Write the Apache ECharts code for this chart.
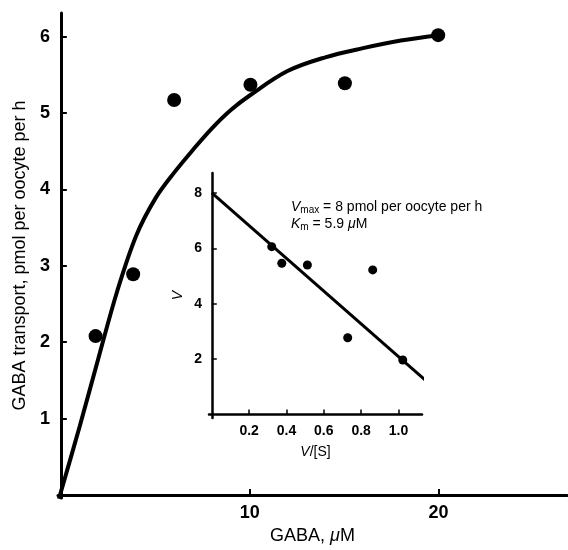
<!DOCTYPE html>
<html>
<head>
<meta charset="utf-8">
<script src="https://cdn.jsdelivr.net/npm/echarts@6/dist/echarts.min.js"></script>
<style>
  html, body { margin: 0; padding: 0; background: #fff; }
  #main { width: 568px; height: 550px; }
</style>
</head>
<body>
<div id="main"></div>
<script>
// main plot: GABA uptake vs concentration
const mainX = [1.84, 3.83, 6.0, 10.04, 15.04, 19.98];
const mainY = [2.08, 2.89, 5.17, 5.37, 5.39, 6.02];
const curveX = [-0.1, 1, 2, 3, 4, 5, 6, 7, 8, 9, 10, 12, 14, 16, 18, 19.98];
const curveY = [-0.05, 0.9, 1.8, 2.68, 3.4, 3.88, 4.22, 4.52, 4.8, 5.04, 5.23, 5.55, 5.73, 5.85, 5.95, 6.02];
const mainXTicks = [10, 20];
const mainYTicks = [1, 2, 3, 4, 5, 6];

// inset: Eadie-Hofstee plot
const insetX = [0.321, 0.375, 0.512, 0.862, 0.728, 1.023];
const insetY = [6.06, 5.46, 5.4, 5.22, 2.77, 1.97];
const fitX = [0, 1.15];
const fitY = [8.0, 1.2];
const insetXTicks = [0.2, 0.4, 0.6, 0.8, 1.0];
const insetYTicks = [2, 4, 6, 8];

const font = 'Liberation Sans, Arial, Helvetica, sans-serif';
const zip = (a, b) => a.map((v, i) => [v, b[i]]);

const chart = echarts.init(document.getElementById('main'));

chart.setOption({
  animation: false,
  backgroundColor: '#fff',
  grid: [
    { left: 58, top: 13, width: 509, height: 485 },
    { left: 209, top: 173, width: 213, height: 245 }
  ],
  xAxis: [
    {
      gridIndex: 0, type: 'value', min: -0.15, max: 26.8,
      name: '{n|GABA, }{i|μ}{n|M}', nameLocation: 'middle', nameGap: 27,
      nameTextStyle: { rich: {
        n: { fontFamily: font, fontSize: 18, color: '#000' },
        i: { fontFamily: font, fontSize: 18, fontStyle: 'italic', color: '#000' }
      } },
      splitLine: { show: false },
      axisLine: { lineStyle: { color: '#000', width: 3 } },
      axisTick: { inside: true, length: 6, customValues: mainXTicks, lineStyle: { color: '#000', width: 2 } },
      axisLabel: { customValues: mainXTicks, margin: 6, fontFamily: font, fontSize: 18, fontWeight: 'bold', color: '#000' }
    },
    {
      gridIndex: 1, type: 'value', min: -0.015, max: 1.126,
      name: '{i|V}{n|/[S]}', nameLocation: 'middle', nameGap: 27,
      nameTextStyle: { rich: {
        n: { fontFamily: font, fontSize: 14, color: '#000' },
        i: { fontFamily: font, fontSize: 14, fontStyle: 'italic', color: '#000' }
      } },
      splitLine: { show: false },
      axisLine: { lineStyle: { color: '#000', width: 2.5 } },
      axisTick: { inside: true, length: 5, customValues: insetXTicks, lineStyle: { color: '#000', width: 1.5 } },
      axisLabel: { customValues: insetXTicks, margin: 6, fontFamily: font, fontSize: 14, fontWeight: 'bold', color: '#000',
        formatter: v => v.toFixed(1) }
    }
  ],
  yAxis: [
    {
      gridIndex: 0, type: 'value', min: -0.04, max: 6.31,
      name: 'GABA transport, pmol per oocyte per h', nameLocation: 'middle', nameGap: 21,
      nameTextStyle: { fontFamily: font, fontSize: 18, color: '#000' },
      splitLine: { show: false },
      axisLine: { lineStyle: { color: '#000', width: 3 } },
      axisTick: { inside: true, length: 6, customValues: mainYTicks, lineStyle: { color: '#000', width: 2 } },
      axisLabel: { customValues: mainYTicks, margin: 8, fontFamily: font, fontSize: 18, fontWeight: 'bold', color: '#000' }
    },
    {
      gridIndex: 1, type: 'value', min: -0.126, max: 8.72,
      name: 'V', nameLocation: 'middle', nameGap: 24,
      nameTextStyle: { fontFamily: font, fontSize: 14, fontStyle: 'italic', color: '#000' },
      splitLine: { show: false },
      axisLine: { lineStyle: { color: '#000', width: 2.5 } },
      axisTick: { inside: true, length: 5, customValues: insetYTicks, lineStyle: { color: '#000', width: 1.5 } },
      axisLabel: { customValues: insetYTicks, margin: 7, fontFamily: font, fontSize: 14, fontWeight: 'bold', color: '#000' }
    }
  ],
  series: [
    {
      type: 'line', xAxisIndex: 0, yAxisIndex: 0, data: zip(curveX, curveY),
      smooth: 0.35, showSymbol: false, clip: false,
      lineStyle: { color: '#000', width: 4 }
    },
    {
      type: 'scatter', xAxisIndex: 0, yAxisIndex: 0, data: zip(mainX, mainY),
      symbolSize: 14, itemStyle: { color: '#000', opacity: 1 }, clip: false
    },
    {
      type: 'line', xAxisIndex: 1, yAxisIndex: 1, data: zip(fitX, fitY),
      showSymbol: false, clip: false, lineStyle: { color: '#000', width: 3 }
    },
    {
      type: 'scatter', xAxisIndex: 1, yAxisIndex: 1, data: zip(insetX, insetY),
      symbolSize: 9, itemStyle: { color: '#000', opacity: 1 }, clip: false
    }
  ],
  graphic: [
    {
      type: 'text', left: 291, top: 200,
      style: {
        text: '{i|V}{s|max}{n| = 8 pmol per oocyte per h}\n{i|K}{s|m}{n| = 5.9 }{i|μ}{n|M}',
        rich: {
          n: { fontFamily: font, fontSize: 14, fill: '#000', lineHeight: 17 },
          i: { fontFamily: font, fontSize: 14, fontStyle: 'italic', fill: '#000', lineHeight: 17 },
          s: { fontFamily: font, fontSize: 10, fill: '#000', lineHeight: 17, padding: [5, 0, 0, 0] }
        }
      }
    }
  ]
});
</script>
</body>
</html>
